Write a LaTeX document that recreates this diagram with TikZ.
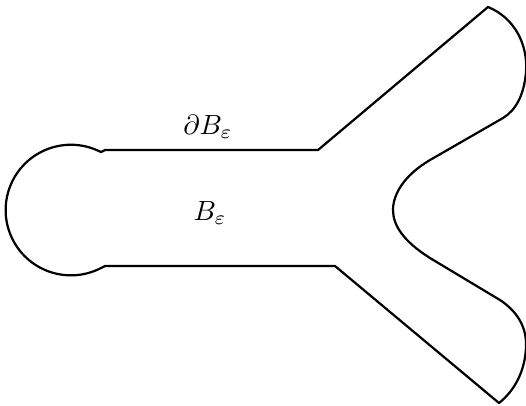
\documentclass[tikz,border=0pt]{standalone}
\usepackage{amsmath,amssymb}
\usetikzlibrary{calc}
\tikzset{
  outline/.style={draw=black, thick, line join=round},
  lbl/.style    ={inner sep=1pt, font=\normalsize},
}
\begin{document}
\begin{tikzpicture}[x=0.36pt, y=-0.36pt]
  \useasboundingbox (0,0) rectangle (526,405);

  % corners of the domain
  \coordinate (tl) at (105,150);
  \coordinate (tj) at (318,150);
  \coordinate (ta) at (488,7);
  \coordinate (bl) at (105,266);
  \coordinate (bj) at (335,266);
  \coordinate (ba) at (499,403);

  % boundary of the domain
  \draw[outline]
    (tl) -- (tj) -- (ta)
    .. controls (515,18) and (528,45) .. (526,72)
    .. controls (524,95) and (516,110) .. (503,118)
    -- (430,160)
    .. controls (403,176) and (393,195) .. (393,210)
    .. controls (393,225) and (403,241) .. (430,258)
    -- (500,300)
    .. controls (515,310) and (527,325) .. (526,347)
    .. controls (525,372) and (514,391) .. (ba)
    -- (bj) -- (bl)
    -- (101,268) arc[start angle=62.6, end angle=297.4, radius=65.3]
    -- cycle;

  % labels
  \node[lbl] (bdry) at (208,127) {$\partial B_\varepsilon$};
  \node[lbl] (dom)  at (210,213) {$B_\varepsilon$};
\end{tikzpicture}
\end{document}
